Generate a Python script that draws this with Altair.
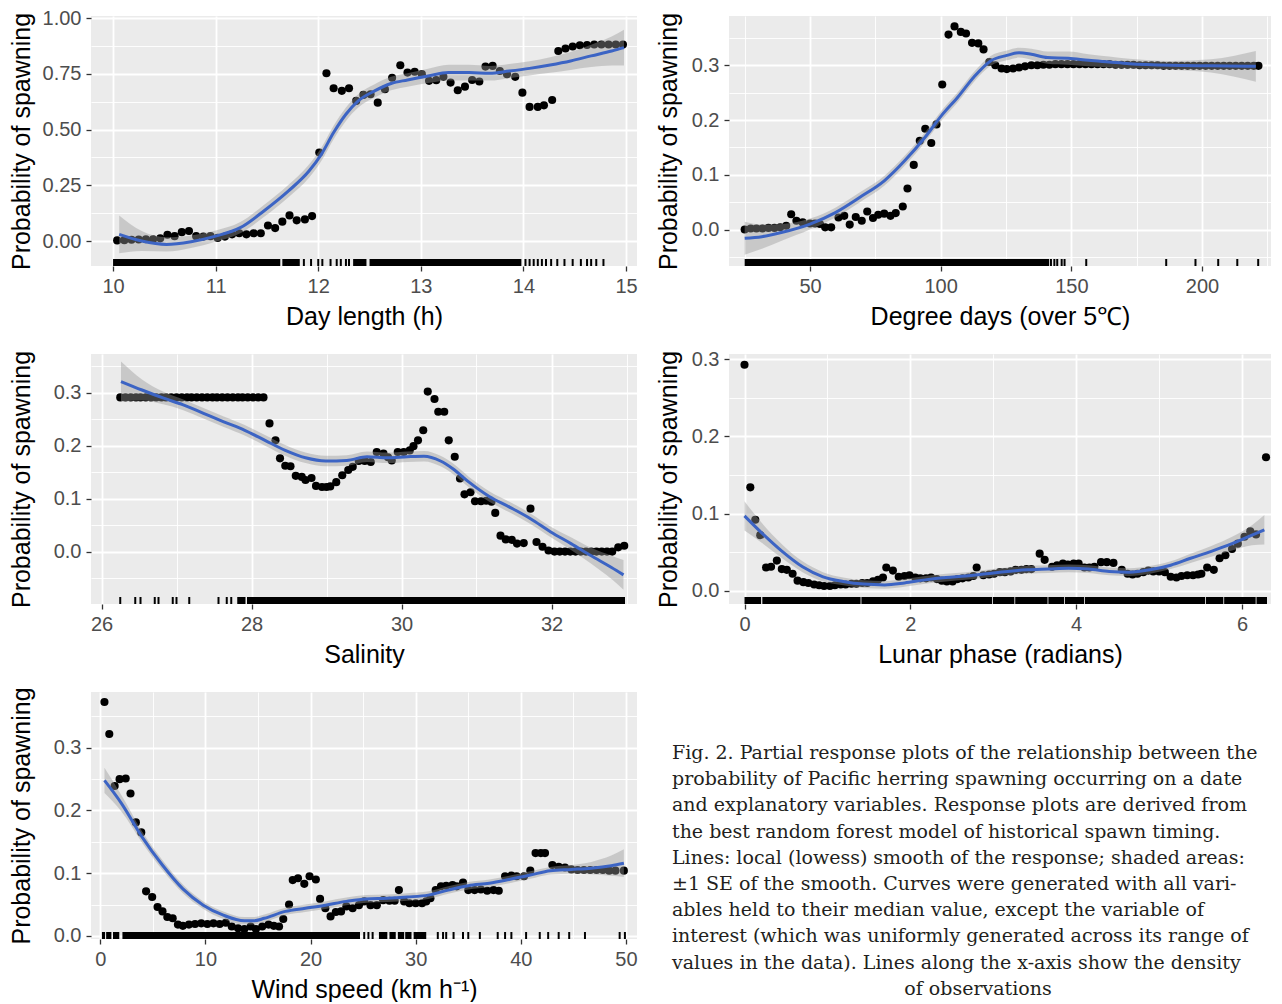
import json
import altair as alt
import pandas as pd

FONT = "Liberation Sans"
BG = "#EBEBEB"
LINE_BLUE = "#3C64C4"

# ---------------- Panel 1: Day length ----------------
p1_x = [10.04, 10.11, 10.18, 10.25, 10.32, 10.39, 10.46, 10.53, 10.60, 10.67, 10.74, 10.81, 10.88, 10.95,
        11.02, 11.09, 11.16, 11.23, 11.30, 11.37, 11.44, 11.51, 11.58, 11.65, 11.72, 11.79, 11.87, 11.94,
        12.01, 12.08, 12.15, 12.23, 12.30, 12.37, 12.44, 12.51, 12.58, 12.65, 12.72, 12.80, 12.87, 12.94,
        13.01, 13.08, 13.15, 13.22, 13.29, 13.36, 13.43, 13.50, 13.57, 13.63, 13.70, 13.77, 13.84, 13.92,
        13.99, 14.06, 14.14, 14.20, 14.28, 14.34, 14.41, 14.48, 14.55, 14.62, 14.69, 14.76, 14.83, 14.90, 14.97]
p1_y = [0.003, 0.004, 0.006, 0.007, 0.008, 0.008, 0.012, 0.028, 0.022, 0.040, 0.045, 0.022, 0.020, 0.022,
        0.014, 0.020, 0.030, 0.035, 0.030, 0.035, 0.035, 0.070, 0.058, 0.087, 0.115, 0.093, 0.097, 0.112,
        0.397, 0.753, 0.686, 0.674, 0.686, 0.629, 0.656, 0.659, 0.621, 0.681, 0.733, 0.789, 0.756, 0.760,
        0.749, 0.719, 0.722, 0.737, 0.711, 0.677, 0.693, 0.723, 0.716, 0.783, 0.786, 0.763, 0.749, 0.737,
        0.666, 0.602, 0.602, 0.609, 0.633, 0.853, 0.864, 0.873, 0.879, 0.880, 0.882, 0.882, 0.882, 0.882, 0.882]
p1_fit_x = [10.06, 10.28, 10.52, 10.76, 11.0, 11.24, 11.47, 11.71, 11.91, 12.03, 12.15, 12.27, 12.39, 12.55,
            12.71, 12.87, 13.07, 13.27, 13.47, 13.67, 13.86, 14.06, 14.26, 14.46, 14.66, 14.86, 14.98]
p1_fit_y = [0.030, 0.000, -0.015, -0.003, 0.022, 0.060, 0.135, 0.225, 0.314, 0.389, 0.487, 0.569, 0.629, 0.674,
            0.707, 0.723, 0.741, 0.756, 0.756, 0.753, 0.763, 0.775, 0.790, 0.808, 0.831, 0.853, 0.868]
p1_fit_se = [0.085, 0.045, 0.032, 0.028, 0.025, 0.025, 0.027, 0.028, 0.030, 0.030, 0.030, 0.030, 0.030, 0.030,
             0.030, 0.030, 0.032, 0.035, 0.035, 0.033, 0.032, 0.032, 0.035, 0.040, 0.050, 0.065, 0.080]
p1_rug_start = [10.0, 11.65, 12.34, 12.50]
p1_rug_end = [11.63, 11.82, 12.47, 13.98]
p1_rug_ticks = [11.86, 11.93, 12.00, 12.04, 12.12, 12.18, 12.22, 12.27, 12.30,
                14.02, 14.06, 14.10, 14.14, 14.18, 14.22, 14.27, 14.33, 14.40, 14.48, 14.56, 14.62,
                14.66, 14.71, 14.78]

# ---------------- Panel 2: Degree days ----------------
p2_x = [25.0, 27.3, 29.5, 31.8, 34.1, 36.4, 38.6, 40.9, 42.8, 44.8, 47.2, 50.0, 51.9, 53.8, 55.8, 58.1,
        60.9, 63.1, 65.2, 67.5, 69.8, 71.9, 74.1, 76.1, 78.4, 80.8, 82.8, 85.5, 87.3, 89.7, 92.0, 94.1,
        96.4, 98.4, 100.6, 103.0, 105.3, 107.7, 109.7, 112.0, 114.4, 116.4, 118.6, 120.9, 123.3, 125.3,
        127.7, 130.0, 132.3, 134.7, 137.0, 139.3, 141.6, 143.9, 146.2, 148.5, 150.8, 153.1, 155.4, 157.7,
        160.0, 162.3, 164.6, 166.9, 169.2, 171.5, 173.8, 176.1, 178.4, 180.7, 183.0, 185.3, 187.6, 189.9,
        192.2, 194.5, 196.8, 199.1, 201.4, 203.7, 206.0, 208.3, 210.6, 212.9, 215.2, 217.5, 219.8, 221.6]
p2_y = [0.000, 0.002, 0.002, 0.002, 0.003, 0.003, 0.004, 0.007, 0.028, 0.016, 0.013, 0.011, 0.011, 0.010,
        0.004, 0.004, 0.022, 0.025, 0.009, 0.023, 0.016, 0.033, 0.021, 0.027, 0.029, 0.025, 0.030, 0.042,
        0.075, 0.118, 0.162, 0.184, 0.158, 0.192, 0.265, 0.356, 0.371, 0.361, 0.358, 0.341, 0.340, 0.329,
        0.306, 0.300, 0.294, 0.293, 0.294, 0.296, 0.298, 0.300, 0.300, 0.301, 0.301, 0.302, 0.302, 0.302,
        0.302, 0.302, 0.302, 0.302, 0.302, 0.302, 0.302, 0.301, 0.301, 0.301, 0.301, 0.300, 0.300, 0.300,
        0.300, 0.299, 0.299, 0.299, 0.299, 0.299, 0.299, 0.299, 0.299, 0.299, 0.299, 0.299, 0.299, 0.299,
        0.299, 0.299, 0.299, 0.299]
p2_fit_x = [25.0, 31.6, 39.4, 50.0, 59.7, 69.1, 78.4, 86.3, 94.1, 100.3, 106.6, 112.8, 119.1, 125.3,
            130.0, 134.7, 140.9, 148.8, 156.6, 164.4, 172.2, 187.8, 203.4, 220.6]
p2_fit_y = [-0.016, -0.013, -0.005, 0.010, 0.031, 0.059, 0.089, 0.126, 0.169, 0.208, 0.242, 0.279, 0.308,
            0.318, 0.323, 0.320, 0.314, 0.313, 0.309, 0.306, 0.303, 0.300, 0.299, 0.298]
p2_fit_se = [0.030, 0.022, 0.015, 0.010, 0.009, 0.009, 0.009, 0.009, 0.009, 0.009, 0.009, 0.009, 0.009,
             0.009, 0.009, 0.010, 0.011, 0.012, 0.011, 0.010, 0.009, 0.008, 0.012, 0.028]
p2_rug_start = [25.0]
p2_rug_end = [141.5]
p2_rug_ticks = [142.2, 143.5, 144.6, 146.3, 147.4, 155.7, 186.3, 197.5, 206.2, 213.5, 221.5]

# ---------------- Panel 3: Salinity ----------------
p3_x = [26.25, 26.32, 26.39, 26.46, 26.52, 26.59, 26.66, 26.73, 26.80, 26.86, 26.93, 27.00, 27.07, 27.14,
        27.20, 27.27, 27.34, 27.41, 27.48, 27.54, 27.61, 27.68, 27.75, 27.82, 27.88, 27.95, 28.02, 28.09,
        28.16, 28.24, 28.32, 28.38, 28.45, 28.52, 28.59, 28.67, 28.72, 28.80, 28.86, 28.94, 29.00, 29.05,
        29.13, 29.21, 29.29, 29.35, 29.43, 29.51, 29.59, 29.67, 29.76, 29.82, 29.87, 29.95, 30.03, 30.11,
        30.16, 30.22, 30.29, 30.35, 30.44, 30.49, 30.57, 30.63, 30.71, 30.78, 30.84, 30.92, 30.98, 31.06,
        31.13, 31.20, 31.25, 31.32, 31.39, 31.47, 31.54, 31.63, 31.72, 31.80, 31.88, 31.96, 32.04, 32.11,
        32.18, 32.25, 32.32, 32.39, 32.46, 32.53, 32.60, 32.67, 32.74, 32.81, 32.89, 32.97]
p3_y = [0.291, 0.291, 0.291, 0.291, 0.291, 0.291, 0.291, 0.291, 0.291, 0.291, 0.291, 0.291, 0.291, 0.291,
        0.291, 0.291, 0.291, 0.291, 0.291, 0.291, 0.291, 0.291, 0.291, 0.291, 0.291, 0.291, 0.291, 0.291,
        0.291, 0.242, 0.210, 0.176, 0.162, 0.161, 0.143, 0.141, 0.135, 0.139, 0.124, 0.122, 0.122, 0.123,
        0.131, 0.144, 0.154, 0.160, 0.171, 0.171, 0.169, 0.188, 0.185, 0.178, 0.172, 0.188, 0.188, 0.191,
        0.199, 0.210, 0.229, 0.302, 0.288, 0.264, 0.264, 0.210, 0.179, 0.138, 0.108, 0.112, 0.095, 0.095,
        0.096, 0.094, 0.073, 0.030, 0.023, 0.022, 0.015, 0.016, 0.081, 0.018, 0.009, 0.002, 0.000, 0.000,
        0.000, 0.000, 0.000, 0.000, 0.000, 0.000, 0.000, 0.000, 0.000, 0.000, 0.008, 0.011]
p3_fit_x = [26.26, 26.54, 26.82, 27.09, 27.36, 27.63, 27.91, 28.18, 28.45, 28.72, 28.99, 29.27, 29.54,
            29.81, 30.08, 30.30, 30.52, 30.68, 30.90, 31.17, 31.44, 31.72, 31.99, 32.26, 32.53, 32.80, 32.96]
p3_fit_y = [0.321, 0.305, 0.290, 0.277, 0.261, 0.245, 0.229, 0.210, 0.191, 0.177, 0.171, 0.172, 0.179,
            0.177, 0.179, 0.180, 0.171, 0.157, 0.131, 0.104, 0.084, 0.062, 0.037, 0.015, -0.008, -0.030, -0.044]
p3_fit_se = [0.038, 0.020, 0.012, 0.010, 0.010, 0.010, 0.010, 0.010, 0.010, 0.010, 0.010, 0.010, 0.010,
             0.010, 0.010, 0.010, 0.010, 0.010, 0.010, 0.010, 0.010, 0.010, 0.010, 0.012, 0.015, 0.022, 0.028]
p3_rug_start = [27.81, 27.94]
p3_rug_end = [27.92, 32.98]
p3_rug_ticks = [26.25, 26.45, 26.52, 26.71, 26.76, 26.95, 27.00, 27.17, 27.56, 27.67, 27.73]

# ---------------- Panel 4: Lunar phase ----------------
p4_x = [0.00, 0.07, 0.13, 0.19, 0.26, 0.32, 0.39, 0.45, 0.51, 0.58, 0.64, 0.71, 0.77, 0.84, 0.90, 0.96,
        1.03, 1.09, 1.16, 1.22, 1.29, 1.35, 1.42, 1.48, 1.55, 1.61, 1.67, 1.71, 1.79, 1.86, 1.93, 1.99,
        2.06, 2.12, 2.19, 2.25, 2.32, 2.38, 2.44, 2.51, 2.57, 2.63, 2.70, 2.76, 2.80, 2.88, 2.95, 3.01,
        3.08, 3.14, 3.21, 3.27, 3.34, 3.40, 3.46, 3.56, 3.62, 3.71, 3.77, 3.84, 3.90, 3.97, 4.03, 4.10,
        4.16, 4.22, 4.30, 4.37, 4.45, 4.55, 4.62, 4.68, 4.74, 4.81, 4.87, 4.93, 5.00, 5.07, 5.14, 5.21,
        5.27, 5.34, 5.41, 5.47, 5.51, 5.58, 5.66, 5.73, 5.80, 5.88, 5.95, 6.03, 6.10, 6.17, 6.29]
p4_y = [0.293, 0.134, 0.092, 0.072, 0.030, 0.031, 0.039, 0.028, 0.027, 0.022, 0.013, 0.011, 0.010, 0.008,
        0.007, 0.006, 0.006, 0.007, 0.008, 0.008, 0.009, 0.009, 0.010, 0.010, 0.012, 0.014, 0.017, 0.030,
        0.026, 0.018, 0.019, 0.020, 0.017, 0.016, 0.016, 0.017, 0.015, 0.013, 0.012, 0.012, 0.015, 0.016,
        0.017, 0.019, 0.030, 0.020, 0.021, 0.022, 0.024, 0.024, 0.025, 0.027, 0.027, 0.028, 0.028, 0.048,
        0.040, 0.031, 0.033, 0.035, 0.034, 0.035, 0.035, 0.030, 0.030, 0.031, 0.037, 0.037, 0.036, 0.027,
        0.022, 0.021, 0.022, 0.024, 0.026, 0.025, 0.025, 0.024, 0.018, 0.017, 0.019, 0.020, 0.020, 0.021,
        0.022, 0.030, 0.027, 0.042, 0.046, 0.054, 0.061, 0.070, 0.077, 0.073, 0.173]
p4_fit_x = [0.0, 0.207, 0.454, 0.70, 0.947, 1.19, 1.44, 1.69, 1.93, 2.18, 2.43, 2.67, 2.92, 3.17, 3.41,
            3.66, 3.91, 4.15, 4.40, 4.64, 4.89, 5.14, 5.38, 5.63, 5.88, 6.12, 6.27]
p4_fit_y = [0.097, 0.075, 0.051, 0.031, 0.018, 0.012, 0.0085, 0.0075, 0.010, 0.014, 0.017, 0.019, 0.022,
            0.025, 0.027, 0.028, 0.029, 0.028, 0.025, 0.024, 0.027, 0.033, 0.042, 0.051, 0.061, 0.072, 0.079]
p4_fit_se = [0.019, 0.013, 0.009, 0.007, 0.006, 0.005, 0.005, 0.005, 0.005, 0.005, 0.005, 0.005, 0.005,
             0.005, 0.005, 0.005, 0.005, 0.005, 0.005, 0.005, 0.005, 0.005, 0.006, 0.007, 0.009, 0.013, 0.019]
p4_rug_start = [0.0, 0.215, 1.41, 2.995, 3.265, 3.665, 3.865, 4.105, 5.565, 5.785, 6.175]
p4_rug_end = [0.20, 1.40, 2.985, 3.255, 3.655, 3.855, 4.095, 5.555, 5.775, 6.165, 6.30]
p4_rug_ticks = [6.29]

# ---------------- Panel 5: Wind speed ----------------
p5_x = [0.39, 0.85, 1.36, 1.83, 2.41, 2.87, 3.38, 3.89, 4.35, 4.93, 5.44, 5.91, 6.37, 6.88, 7.38, 7.85,
        8.43, 9.01, 9.60, 10.18, 10.76, 11.35, 11.93, 12.5, 13.1, 13.7, 14.3, 14.8, 15.4, 16.0, 16.5,
        17.0, 17.4, 17.95, 18.3, 18.8, 19.4, 19.9, 20.5, 20.9, 21.4, 21.9, 22.4, 22.9, 23.4, 24.0, 24.6,
        25.1, 25.7, 26.3, 26.9, 27.5, 28.0, 28.4, 28.9, 29.4, 30.0, 30.6, 31.0, 31.4, 31.9, 32.4, 32.9,
        33.5, 33.9, 34.5, 35.0, 35.6, 36.2, 36.8, 37.4, 37.9, 38.5, 39.1, 39.6, 40.3, 40.9, 41.4, 41.9,
        42.3, 43.0, 43.6, 44.2, 44.8, 45.4, 46.0, 46.6, 47.2, 47.8, 48.4, 49.0, 49.8]
p5_y = [0.373, 0.322, 0.239, 0.250, 0.251, 0.227, 0.181, 0.165, 0.071, 0.062, 0.046, 0.039, 0.030, 0.028,
        0.018, 0.016, 0.018, 0.019, 0.020, 0.019, 0.020, 0.019, 0.021, 0.015, 0.012, 0.011, 0.015, 0.011,
        0.015, 0.018, 0.016, 0.015, 0.027, 0.050, 0.089, 0.092, 0.083, 0.095, 0.090, 0.059, 0.044, 0.031,
        0.038, 0.039, 0.047, 0.044, 0.049, 0.055, 0.049, 0.049, 0.057, 0.056, 0.056, 0.073, 0.055, 0.052,
        0.052, 0.052, 0.055, 0.060, 0.073, 0.079, 0.080, 0.081, 0.079, 0.085, 0.073, 0.073, 0.074, 0.072,
        0.073, 0.072, 0.095, 0.096, 0.095, 0.095, 0.104, 0.132, 0.132, 0.132, 0.113, 0.110, 0.109, 0.106,
        0.105, 0.105, 0.105, 0.105, 0.105, 0.104, 0.104, 0.104]
p5_fit_x = [0.39, 2.02, 3.96, 5.9, 7.85, 9.79, 11.7, 13.7, 14.6, 15.6, 17.6, 19.5, 21.4, 23.4, 25.3, 27.3,
            29.2, 31.2, 33.1, 35.0, 37.0, 38.9, 40.9, 42.8, 44.8, 46.7, 48.6, 49.8]
p5_fit_y = [0.248, 0.211, 0.158, 0.113, 0.075, 0.049, 0.033, 0.024, 0.024, 0.028, 0.039, 0.044, 0.049,
            0.055, 0.059, 0.060, 0.062, 0.065, 0.073, 0.080, 0.084, 0.090, 0.097, 0.104, 0.106, 0.108,
            0.112, 0.116]
p5_fit_se = [0.020, 0.013, 0.009, 0.008, 0.007, 0.006, 0.006, 0.006, 0.006, 0.006, 0.006, 0.006, 0.006,
             0.006, 0.006, 0.006, 0.006, 0.006, 0.006, 0.006, 0.006, 0.006, 0.006, 0.006, 0.007, 0.010,
             0.016, 0.022]
p5_rug_start = [0.15, 0.55, 1.20, 2.10, 26.5, 27.5, 28.3, 29.0, 29.8]
p5_rug_end = [0.45, 1.05, 1.80, 24.7, 27.3, 28.1, 28.9, 29.6, 31.0]
p5_rug_ticks = [25.1, 25.5, 25.9, 32.1, 32.6, 32.9, 33.6, 34.5, 35.0, 36.1, 37.8, 38.5, 39.1, 40.5,
                41.8, 42.6, 43.6, 44.6, 46.1, 49.4, 49.9]

# ---------------- Caption ----------------
caption_lines = [
    "Fig. 2. Partial response plots of the relationship between the",
    "probability of Pacific herring spawning occurring on a date",
    "and explanatory variables. Response plots are derived from",
    "the best random forest model of historical spawn timing.",
    "Lines: local (lowess) smooth of the response; shaded areas:",
    "±1 SE of the smooth. Curves were generated with all vari-",
    "ables held to their median value, except the variable of",
    "interest (which was uniformly generated across its range of",
    "values in the data). Lines along the x-axis show the density",
]
caption_last = "of observations"


def axis_props(major, minor, fmt):
    test = "indexof(%s, datum.value) >= 0" % json.dumps(major)
    return dict(
        values=sorted(major + minor), format=fmt,
        labelExpr="(%s) ? datum.label : ''" % test,
        grid=True, gridColor="white",
        gridWidth={"condition": {"test": test, "value": 1.8}, "value": 0.9},
        tickOpacity={"condition": {"test": test, "value": 1}, "value": 0},
        tickSize=5, tickWidth=1.3, tickColor="#333333", domain=False,
        labelOverlap=False, labelFlush=False, labelFontSize=20, labelColor="#4D4D4D",
        labelFont=FONT, labelPadding=5,
        titleFont=FONT, titleFontSize=25, titleFontWeight="normal", titleColor="black",
        titleBaseline="alphabetic",
    )


def panel(px, py, fx, fy, fse, rs, re, rt, xdom, ydom, xmaj, xmin, ymaj, ymin,
          xfmt, yfmt, xtitle, width, height, title_x):
    xaxis = alt.Axis(title=xtitle, titleY=58, **axis_props(xmaj, xmin, xfmt))
    yaxis = alt.Axis(title="Probability of spawning", titleX=title_x, **axis_props(ymaj, ymin, yfmt))
    xs = alt.Scale(domain=xdom, zero=False, nice=False)
    ys = alt.Scale(domain=ydom, zero=False, nice=False)

    def X(f):
        return alt.X(field=f, type="quantitative", scale=xs, axis=xaxis)

    def Y(f):
        return alt.Y(field=f, type="quantitative", scale=ys, axis=yaxis)

    pts = alt.Chart(pd.DataFrame({"x": px, "y": py})).mark_circle(
        size=66, color="black", opacity=1).encode(x=X("x"), y=Y("y"))
    fit_df = pd.DataFrame({"x": fx, "y": fy, "se": fse})
    band = alt.Chart(fit_df).transform_calculate(
        lo="datum.y - datum.se", hi="datum.y + datum.se"
    ).mark_area(color="#999999", opacity=0.42, clip=True, interpolate="monotone").encode(
        x=X("x"), y=Y("lo"), y2=alt.Y2(field="hi"))
    line = alt.Chart(fit_df).mark_line(color=LINE_BLUE, strokeWidth=3, clip=True,
                                       interpolate="monotone").encode(x=X("x"), y=Y("y"))
    rseg = alt.Chart(pd.DataFrame({"x": rs, "x2": re})).mark_rect(color="black").encode(
        x=X("x"), x2=alt.X2(field="x2"), y=alt.value(height - 7), y2=alt.value(height))
    rtick = alt.Chart(pd.DataFrame({"x": rt})).mark_rule(color="black", strokeWidth=2).encode(
        x=X("x"), y=alt.value(height - 7), y2=alt.value(height))
    return alt.layer(pts, band, line, rseg, rtick).properties(
        width=width, height=height, view=alt.ViewBackground(fill=BG, stroke=None))


W1, W2, H, H3 = 546, 542, 250, 247

c1 = panel(p1_x, p1_y, p1_fit_x, p1_fit_y, p1_fit_se, p1_rug_start, p1_rug_end, p1_rug_ticks,
           [9.785, 15.107], [-0.112, 1.010], [10, 11, 12, 13, 14, 15], [10.5, 11.5, 12.5, 13.5, 14.5],
           [0, 0.25, 0.5, 0.75, 1.0], [0.125, 0.375, 0.625, 0.875], "d", ".2f",
           "Day length (h)", W1, H, -62)
c2 = panel(p2_x, p2_y, p2_fit_x, p2_fit_y, p2_fit_se, p2_rug_start, p2_rug_end, p2_rug_ticks,
           [19.0, 226.4], [-0.0666, 0.39], [50, 100, 150, 200], [25, 75, 125, 175, 225],
           [0, 0.1, 0.2, 0.3], [-0.05, 0.05, 0.15, 0.25, 0.35], "d", ".1f",
           "Degree days (over 5℃)", W2, H, -53)
c3 = panel(p3_x, p3_y, p3_fit_x, p3_fit_y, p3_fit_se, p3_rug_start, p3_rug_end, p3_rug_ticks,
           [25.86, 33.14], [-0.099, 0.373], [26, 28, 30, 32], [27, 29, 31, 33],
           [0, 0.1, 0.2, 0.3], [-0.05, 0.05, 0.15, 0.25, 0.35], "d", ".1f",
           "Salinity", W1, H, -62)
c4 = panel(p4_x, p4_y, p4_fit_x, p4_fit_y, p4_fit_se, p4_rug_start, p4_rug_end, p4_rug_ticks,
           [-0.187, 6.35], [-0.0173, 0.307], [0, 2, 4, 6], [1, 3, 5],
           [0, 0.1, 0.2, 0.3], [0.05, 0.15, 0.25], "d", ".1f",
           "Lunar phase (radians)", W2, H, -53)
c5 = panel(p5_x, p5_y, p5_fit_x, p5_fit_y, p5_fit_se, p5_rug_start, p5_rug_end, p5_rug_ticks,
           [-0.89, 51.05], [-0.005, 0.389], [0, 10, 20, 30, 40, 50], [5, 15, 25, 35, 45],
           [0, 0.1, 0.2, 0.3], [0.05, 0.15, 0.25, 0.35], "d", ".1f",
           "Wind speed (km h⁻¹)", W1, H3, -62)

cap_scale = alt.Scale(domain=[-2.328, 7.099], reverse=True)
cap_body = alt.Chart(pd.DataFrame({"line": list(range(len(caption_lines))), "text": caption_lines})).mark_text(
    align="left", baseline="middle", font="DejaVu Serif", fontSize=19, color="#231F20"
).encode(x=alt.value(-57), y=alt.Y("line:Q", scale=cap_scale, axis=None), text="text:N")
cap_end = alt.Chart(pd.DataFrame({"line": [len(caption_lines)], "text": [caption_last]})).mark_text(
    align="center", baseline="middle", font="DejaVu Serif", fontSize=19, color="#231F20"
).encode(x=alt.value(249), y=alt.Y("line:Q", scale=cap_scale, axis=None), text="text:N")
cap = alt.layer(cap_body, cap_end).properties(width=W2, height=H3)

chart = alt.concat(c1, c2, c3, c4, c5, cap, columns=2,
                   spacing={"row": 88, "column": 92}, bounds="flush").properties(
    padding=0).configure_view(stroke=None)

chart.save("out.html", embed_options={"renderer": "svg", "actions": False})
